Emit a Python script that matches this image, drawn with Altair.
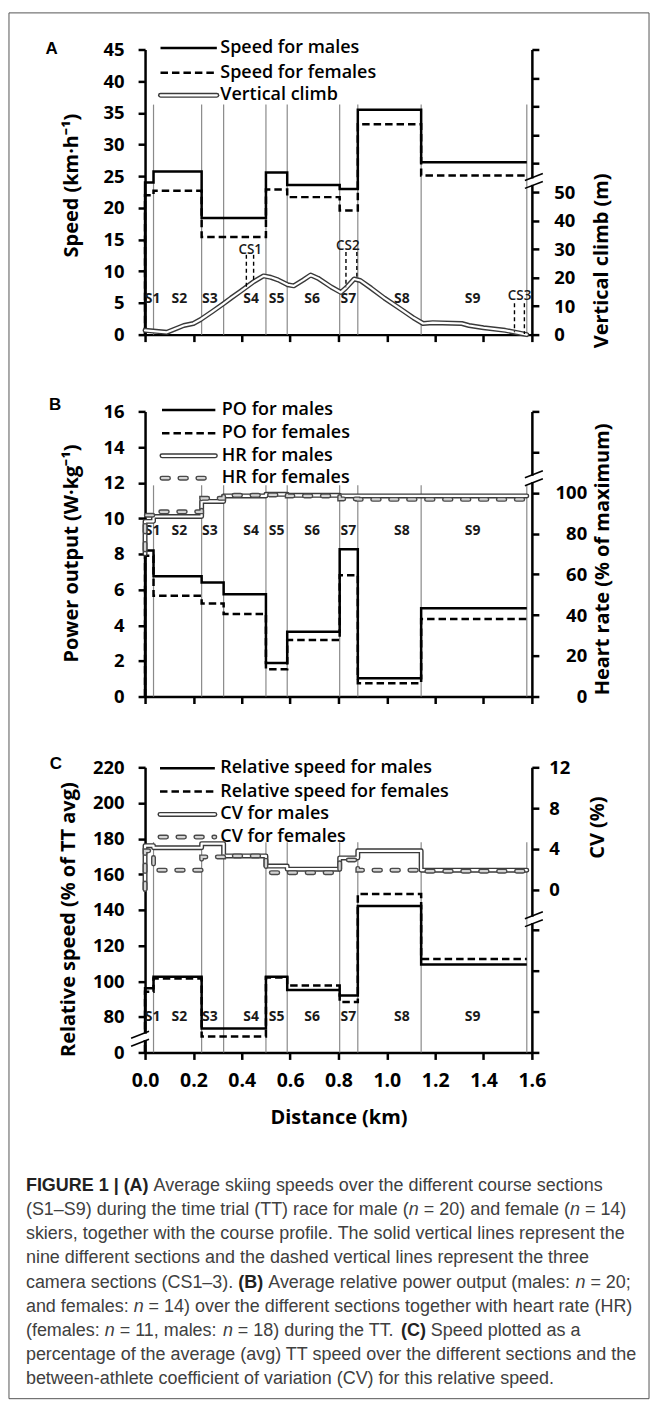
import altair as alt
import pandas as pd

# ---------------- values ----------------
edges = [0.0, 0.035, 0.234, 0.325, 0.500, 0.588, 0.805, 0.880, 1.142, 1.579]
sections = ["S1", "S2", "S3", "S4", "S5", "S6", "S7", "S8", "S9"]
section_label_km = [0.031, 0.142, 0.268, 0.439, 0.544, 0.691, 0.841, 1.062, 1.355]
x_ticks = [0.0, 0.2, 0.4, 0.6, 0.8, 1.0, 1.2, 1.4, 1.6]

# (A) speeds (km/h) and course profile (m)
speed_male = [24.0, 25.75, 18.4, 18.4, 25.6, 23.6, 23.0, 35.5, 27.2]
speed_female = [22.0, 22.7, 15.4, 15.4, 22.9, 21.7, 19.6, 33.2, 25.1]
climb_km = [0.0, 0.09, 0.16, 0.20, 0.23, 0.28, 0.325, 0.355, 0.395, 0.45, 0.49,
            0.52, 0.55, 0.59, 0.615, 0.655, 0.685, 0.715, 0.77, 0.81, 0.83,
            0.865, 0.89, 0.935, 0.99, 1.06, 1.11, 1.15, 1.19, 1.31, 1.34,
            1.40, 1.49, 1.55, 1.579]
climb_m = [1.5, 0.8, 3.2, 3.9, 5.3, 8.2, 10.9, 12.8, 15.2, 18.6, 20.6,
           20.1, 19.2, 17.5, 17.1, 19.2, 20.9, 19.8, 16.7, 14.8, 16.3,
           19.5, 19.0, 16.3, 12.8, 8.8, 5.9, 3.9, 4.2, 3.9, 3.2,
           2.4, 1.5, 0.5, 0.0]
cs_km = [0.419, 0.449, 0.831, 0.876, 1.528, 1.569]
cs_top_m = [28.0, 28.0, 29.0, 29.0, 11.0, 11.0]
cs_bottom_m = [15.9, 18.6, 16.6, 20.0, 0.8, 0.2]
cs_names = ["CS1", "CS2", "CS3"]
cs_label_km = [0.435, 0.839, 1.549]
cs_label_m = [29.8, 31.0, 13.6]

# (B) power output (W/kg) and heart rate (% max)
po_male = [8.2, 6.75, 6.4, 5.74, 1.88, 3.64, 8.26, 1.03, 4.96]
po_female = [7.9, 5.65, 5.22, 4.63, 1.53, 3.17, 6.81, 0.75, 4.35]
hr_male = [86.0, 88.4, 95.8, 98.5, 99.3, 98.8, 98.5, 98.5, 98.5]
hr_female = [89.0, 90.7, 97.3, 98.8, 99.0, 98.5, 97.0, 96.8, 96.8]
hr_start_male = 70.0
hr_start_female = 72.0

# (C) relative speed (% of TT avg) and CV (%)
rel_male = [96.0, 102.5, 73.4, 73.4, 102.5, 95.0, 92.0, 142.2, 109.3]
rel_female = [94.0, 101.5, 68.9, 68.9, 102.0, 97.6, 88.3, 148.9, 112.5]
cv_male = [4.3, 4.1, 4.5, 3.3, 2.3, 2.0, 3.1, 3.8, 1.9]
cv_female = [3.8, 1.9, 3.2, 3.3, 1.65, 1.65, 2.9, 1.9, 1.8]

caption_lines = [
    [("FIGURE 1 | (A)", "b"), (" Average skiing speeds over the different course sections", "r")],
    [("(S1–S9) during the time trial (TT) race for male (", "r"), ("n", "i"), (" = 20) and female (", "r"), ("n", "i"), (" = 14)", "r")],
    [("skiers, together with the course profile. The solid vertical lines represent the", "r")],
    [("nine different sections and the dashed vertical lines represent the three", "r")],
    [("camera sections (CS1–3). ", "r"), ("(B)", "b"), (" Average relative power output (males: ", "r"), ("n", "i"), (" = 20;", "r")],
    [("and females: ", "r"), ("n", "i"), (" = 14) over the different sections together with heart rate (HR)", "r")],
    [("(females: ", "r"), ("n", "i"), (" = 11, males: ", "r"), ("n", "i"), (" = 18) during the TT. ", "r"), ("(C)", "b"), (" Speed plotted as a", "r")],
    [("percentage of the average (avg) TT speed over the different sections and the", "r")],
    [("between-athlete coefficient of variation (CV) for this relative speed.", "r")],
]

# ---------------- layout constants ----------------
W, H = 388.0, 286.0
FONT = "Open Sans"
one = pd.DataFrame({"z": [0]})


def step_df(vals, start):
    km, v = [0.0], [start]
    for i, val in enumerate(vals):
        km += [edges[i], edges[i + 1]]
        v += [val, val]
    return pd.DataFrame({"km": km, "v": v, "i": list(range(len(km)))})


def x_enc(labels):
    kw = dict(values=x_ticks, tickSize=7, tickWidth=2.5, tickColor="black",
              domainWidth=2.5, domainColor="black", grid=False)
    if labels:
        ax = alt.Axis(format=".1f", labelFont=FONT, labelFontSize=19.5, labelFontWeight="bold",
                      labelColor="black", labelPadding=12, labelFlush=False,
                      title="Distance (km)", titleFont=FONT, titleFontSize=20,
                      titleFontWeight="bold", titleColor="black", titleY=65,
                      titleBaseline="middle", **kw)
    else:
        ax = alt.Axis(labels=False, title="", **kw)
    return alt.X("km:Q", scale=alt.Scale(domain=[0, 1.6], nice=False, zero=False), axis=ax)


def y_enc(dom, orient, title, values, tx, ty, pad, align="", expr="", clamp=False):
    kw = dict(orient=orient, values=values, title=title, tickSize=7, tickWidth=2.5,
              tickColor="black", domainWidth=2.5, domainColor="black", grid=False,
              labelFont=FONT, labelFontSize=18.5, labelFontWeight="bold",
              labelColor="black", labelPadding=pad, titleFont=FONT, titleFontSize=20,
              titleFontWeight="bold", titleColor="black", titleAngle=270,
              titleX=tx, titleY=ty, titleBaseline="middle", titleAlign="center")
    if align:
        kw["labelAlign"] = align
    if expr:
        kw["labelExpr"] = expr
    return alt.Y("v:Q", scale=alt.Scale(domain=dom, nice=False, zero=False, clamp=clamp),
                 axis=alt.Axis(**kw))


def vrule(x1, y1, x2, y2, **mk):
    return alt.Chart(one).mark_rule(**mk).encode(
        x=alt.value(x1), y=alt.value(y1), x2=alt.value(x2), y2=alt.value(y2))


def vtext(x, y, s, **mk):
    return alt.Chart(one).mark_text(**mk).encode(
        x=alt.value(x), y=alt.value(y), text=alt.value(s))


SOLID = dict(color="black", strokeWidth=2.5)
DASH = dict(color="black", strokeWidth=2.5, strokeDash=[7.5, 4])
DBL_OUT = dict(color="#3a3a3a", strokeWidth=5, strokeCap="round", strokeJoin="round")
DBL_IN = dict(color="white", strokeWidth=2.2, strokeCap="round", strokeJoin="round")
DD_OUT = dict(color="#4a4a4a", strokeWidth=5, strokeCap="round", strokeDash=[6.5, 11.5])
DD_IN = dict(color="#d4d4d4", strokeWidth=2.2, strokeCap="round", strokeDash=[6.5, 11.5])
STYLES = {"solid": [SOLID], "dash": [DASH], "double": [DBL_OUT, DBL_IN], "ddash": [DD_OUT, DD_IN]}


def series(df, xe, ye, style):
    return [alt.Chart(df).mark_line(**mk).encode(x=xe, y=ye, order="i:Q") for mk in STYLES[style]]


def legend(entries, rows, xa, xb, xt):
    out = []
    for (label, style), yy in zip(entries, rows):
        for mk in STYLES[style]:
            out.append(vrule(xa, yy, xb, yy, **mk))
        out.append(vtext(xt, yy, label, align="left", baseline="middle", font=FONT,
                         fontSize=18, fontWeight=600, color="black"))
    return out


def gray_lines(xe, ye, top, bottom):
    df = pd.DataFrame({"km": edges[1:], "v": [top] * 9, "v2": [bottom] * 9})
    return alt.Chart(df).mark_rule(color="#8a8a8a", strokeWidth=1.2).encode(x=xe, y=ye, y2="v2")


def sec_labels(xe, ypix):
    df = pd.DataFrame({"km": section_label_km, "name": sections})
    return alt.Chart(df).mark_text(font=FONT, fontSize=14, fontWeight="bold", color="#1a1a1a",
                                   baseline="middle").encode(x=xe, y=alt.value(ypix), text="name:N")


def letter(s, x, y):
    return vtext(x, y, s, font="Liberation Sans", fontSize=17, fontWeight="bold",
                 color="black", baseline="middle", align="center")


def axis_break(xc, yc, dx):
    def at_x(d):
        return yc + d + 3.5 - 7.0 * (9.0 - dx) / 18.0
    out = [vrule(xc, at_x(-4.0) + 0.8, xc, at_x(4.0) - 0.8, color="white", strokeWidth=6)]
    for d in (-4.0, 4.0):
        out.append(vrule(xc + dx - 9, yc + d + 3.5, xc + dx + 9, yc + d - 3.5,
                         color="black", strokeWidth=1.6))
    return out


def panel(left, right):
    return alt.layer(alt.layer(*left), alt.layer(*right)).resolve_scale(
        y="independent").properties(width=W, height=H)


# ---------------- panel A ----------------
XA = x_enc(False)
YA = y_enc([0, 45], "left", "Speed (km·h⁻¹)", list(range(0, 46, 5)), -73.5, 136, 14)
YAR = y_enc([0, 100], "right", "Vertical climb (m)", list(range(0, 101, 10)), 70, 211.5, 15,
            expr="datum.value <= 50 ? datum.label : ''")
climb_df = pd.DataFrame({"km": climb_km, "v": climb_m, "i": list(range(len(climb_km)))})
cs_df = pd.DataFrame({"km": cs_km, "v": cs_top_m, "v2": cs_bottom_m})
cs_lab = pd.DataFrame({"km": cs_label_km, "v": cs_label_m, "name": cs_names})

left_A = ([gray_lines(XA, YA, 36.3, 0)]
          + series(step_df(speed_male, 0.0), XA, YA, "solid")
          + series(step_df(speed_female, 0.0), XA, YA, "dash")
          + [sec_labels(XA, 250.3)]
          + legend([("Speed for males", "solid"), ("Speed for females", "dash"),
                    ("Vertical climb", "double")], [-1.5, 23.3, 46.0], 15.5, 72, 75.5)
          + [letter("A", -93.7, -0.9)])
right_A = (series(climb_df, XA, YAR, "double")
           + [alt.Chart(cs_df).mark_rule(color="black", strokeWidth=1.4, strokeDash=[4, 3]).encode(
               x=XA, y=YAR, y2="v2"),
              alt.Chart(cs_lab).mark_text(font=FONT, fontSize=13.5, fontWeight=600, color="#1a1a1a",
                                          baseline="middle").encode(x=XA, y=YAR, text="name:N")]
           + axis_break(W, 131.8, 2))
chart_A = panel(left_A, right_A)

# ---------------- panel B ----------------
XB = x_enc(False)
YB = y_enc([0, 16], "left", "Power output (W·kg⁻¹)", list(range(0, 17, 2)), -73.5, 142, 14)
YBR = y_enc([0, 140], "right", "Heart rate (% of maximum)", list(range(0, 141, 20)), 71, 148, 48,
            align="right", expr="datum.value <= 100 ? datum.label : ''")
left_B = ([gray_lines(XB, YB, 11.85, 0)]
          + series(step_df(po_male, 0.0), XB, YB, "solid")
          + series(step_df(po_female, 0.0), XB, YB, "dash")
          + [sec_labels(XB, 120.3)]
          + legend([("PO for males", "solid"), ("PO for females", "dash"),
                    ("HR for males", "double"), ("HR for females", "ddash")],
                   [-1.4, 22.0, 44.6, 67.0], 17, 70.5, 77)
          + [letter("B", -90.1, -6.2)])
right_B = (series(step_df(hr_male, hr_start_male), XB, YBR, "double")
           + series(step_df(hr_female, hr_start_female), XB, YBR, "ddash")
           + axis_break(W, 67.0, 2))
chart_B = panel(left_B, right_B)

# ---------------- panel C ----------------
XC = x_enc(True)
YC = y_enc([60, 220], "left", "Relative speed (% of TT avg)", list(range(60, 221, 20)), -76.5, 152.3, 14,
           expr="datum.value == 60 ? '0' : datum.label", clamp=True)
YCR = y_enc([-16, 12], "right", "CV (%)", list(range(-16, 13, 4)), 66, 60, 10,
            expr="datum.value >= 0 ? datum.label : ''")
left_C = ([gray_lines(XC, YC, 178.0, 60.0)]
          + series(step_df(rel_male, 0.0), XC, YC, "solid")
          + series(step_df(rel_female, 0.0), XC, YC, "dash")
          + [sec_labels(XC, 250.6)]
          + legend([("Relative speed for males", "solid"), ("Relative speed for females", "dash"),
                    ("CV for males", "double"), ("CV for females", "ddash")],
                   [1.0, 24.3, 47.3, 70.0], 15, 70, 75.5)
          + [letter("C", -89.5, -3.2)]
          + axis_break(0, 272.3, -5))
right_C = (series(step_df(cv_male, 0.0), XC, YCR, "double")
           + series(step_df(cv_female, 0.0), XC, YCR, "ddash")
           + axis_break(W, 152.3, 2))
chart_C = panel(left_C, right_C)

# ---------------- caption ----------------
AR = {" ": 278, "!": 278, "(": 333, ")": 333, ",": 278, "-": 333, ".": 278, ":": 278,
      ";": 278, "=": 584, "|": 260, "–": 556, "%": 889}
for ch in "0123456789":
    AR[ch] = 556
for ch, w in zip("ABCDEFGHIJKLMNOPQRSTUVWXYZ",
                 [667, 667, 722, 722, 667, 611, 778, 722, 278, 500, 667, 556, 833, 722, 778,
                  667, 778, 722, 667, 611, 722, 667, 944, 667, 667, 611]):
    AR[ch] = w
for ch, w in zip("abcdefghijklmnopqrstuvwxyz",
                 [556, 556, 500, 556, 556, 278, 556, 556, 222, 222, 500, 222, 833, 556, 556,
                  556, 556, 333, 500, 278, 556, 500, 722, 500, 500, 500]):
    AR[ch] = w
AB = dict(AR)
AB.update({"A": 722, "B": 722, "C": 722, "F": 611, "G": 778, "U": 722, "R": 722, "|": 280})
CAP_SIZE = 18.0


def twidth(t, style):
    table = AB if style == "b" else AR
    return sum(table.get(ch, 556) for ch in t) / 1000.0 * CAP_SIZE


cap_rows = []
for li, segs in enumerate(caption_lines):
    cursor = 25.0 - 144.5
    ypos = 134.0 + 24.2 * li
    for txt, st in segs:
        lead = len(txt) - len(txt.lstrip(" "))
        xs = cursor + twidth(" " * lead, st)
        cap_rows.append({"t": txt.strip(" "), "x": xs, "y": ypos, "s": st})
        cursor += twidth(txt, st)
cap_df = pd.DataFrame(cap_rows)


def cap_layer(st, **mk):
    return alt.Chart(cap_df).transform_filter(alt.datum.s == st).mark_text(
        align="left", baseline="middle", font="Liberation Sans", fontSize=CAP_SIZE, **mk).encode(
        x=alt.X("x:Q", scale=None, axis=None), y=alt.Y("y:Q", scale=None, axis=None), text="t:N")


border = alt.Chart(one).mark_rect(fillOpacity=0, stroke="#555555", strokeWidth=1).encode(
    x=alt.value(8 - 144.5), x2=alt.value(650 - 144.5),
    y=alt.value(10 - 1052.7), y2=alt.value(1400 - 1052.7))

chart_cap = alt.layer(
    border,
    cap_layer("r", color="#404040"),
    cap_layer("b", color="#222222", fontWeight="bold"),
    cap_layer("i", color="#404040", fontStyle="italic"),
).properties(width=W, height=347.3)


def spacer(h):
    return alt.Chart(one).mark_point(opacity=0).encode(
        x=alt.value(0), y=alt.value(0)).properties(width=W, height=h)


chart = alt.vconcat(chart_A, spacer(77), chart_B, spacer(71), chart_C, chart_cap,
                    spacing=0, bounds="flush").properties(
    padding={"left": 7.5, "top": 9.5, "right": 6.5, "bottom": 6.5}
).configure_view(stroke="transparent")

chart.save("out.html", embed_options={"renderer": "svg", "actions": False})
